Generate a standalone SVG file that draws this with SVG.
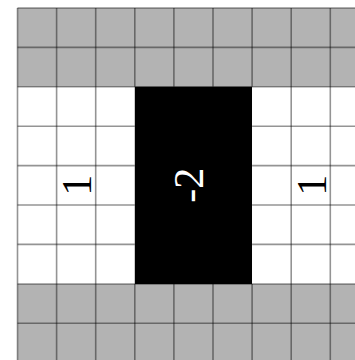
<svg xmlns="http://www.w3.org/2000/svg" width="355" height="360" viewBox="0 0 355 360">
  <style>
    .gray { fill: #b3b3b3; }
    .white { fill: #ffffff; }
    .black { fill: #000000; }
    .grid line { stroke: #000000; stroke-opacity: 0.42; stroke-width: 1.6; }
    .lbl { font-family: "Liberation Serif", "Times New Roman", serif; font-size: 42px; text-anchor: middle; }
  </style>
  <rect x="0" y="0" width="355" height="360" fill="#ffffff"/>
  <g id="band-top">
    <rect class="gray" x="17.5" y="8" width="340" height="78.8"/>
  </g>
  <g id="band-bottom">
    <rect class="gray" x="17.5" y="284" width="340" height="80"/>
  </g>
  <g id="region-left">
    <rect class="white" x="17.5" y="86.8" width="117.3" height="197.2"/>
    <text class="lbl" transform="translate(91,185.3) rotate(-90)" fill="#000000">1</text>
  </g>
  <g id="region-center">
    <rect class="black" x="134.8" y="86.8" width="117.3" height="197.2"/>
    <text class="lbl" transform="translate(203,185.3) rotate(-90)" fill="#ffffff">-2</text>
  </g>
  <g id="region-right">
    <rect class="white" x="252.1" y="86.8" width="110" height="197.2"/>
    <text class="lbl" transform="translate(326,185.3) rotate(-90)" fill="#000000">1</text>
  </g>
  <g id="connectors" class="grid">
    <line x1="17.5" y1="8" x2="17.5" y2="360"/>
    <line x1="56.6" y1="8" x2="56.6" y2="86.8"/>
    <line x1="56.6" y1="86.8" x2="56.6" y2="360"/>
    <line x1="95.7" y1="8" x2="95.7" y2="360"/>
    <line x1="134.8" y1="8" x2="134.8" y2="86.8"/>
    <line x1="134.8" y1="284" x2="134.8" y2="360"/>
    <line x1="173.9" y1="8" x2="173.9" y2="86.8"/>
    <line x1="173.9" y1="284" x2="173.9" y2="360"/>
    <line x1="213" y1="8" x2="213" y2="86.8"/>
    <line x1="213" y1="284" x2="213" y2="360"/>
    <line x1="252.1" y1="8" x2="252.1" y2="86.8"/>
    <line x1="252.1" y1="284" x2="252.1" y2="360"/>
    <line x1="291.2" y1="8" x2="291.2" y2="360"/>
    <line x1="330.3" y1="8" x2="330.3" y2="360"/>
    <line x1="17.5" y1="8" x2="355" y2="8"/>
    <line x1="17.5" y1="47.4" x2="355" y2="47.4"/>
    <line x1="17.5" y1="86.8" x2="355" y2="86.8"/>
    <line x1="17.5" y1="126.2" x2="134.8" y2="126.2"/>
    <line x1="252.1" y1="126.2" x2="355" y2="126.2"/>
    <line x1="17.5" y1="165.6" x2="134.8" y2="165.6"/>
    <line x1="252.1" y1="165.6" x2="355" y2="165.6"/>
    <line x1="17.5" y1="205" x2="134.8" y2="205"/>
    <line x1="252.1" y1="205" x2="355" y2="205"/>
    <line x1="17.5" y1="244.4" x2="134.8" y2="244.4"/>
    <line x1="252.1" y1="244.4" x2="355" y2="244.4"/>
    <line x1="17.5" y1="284" x2="355" y2="284"/>
    <line x1="17.5" y1="323.2" x2="355" y2="323.2"/>
  </g>
</svg>
